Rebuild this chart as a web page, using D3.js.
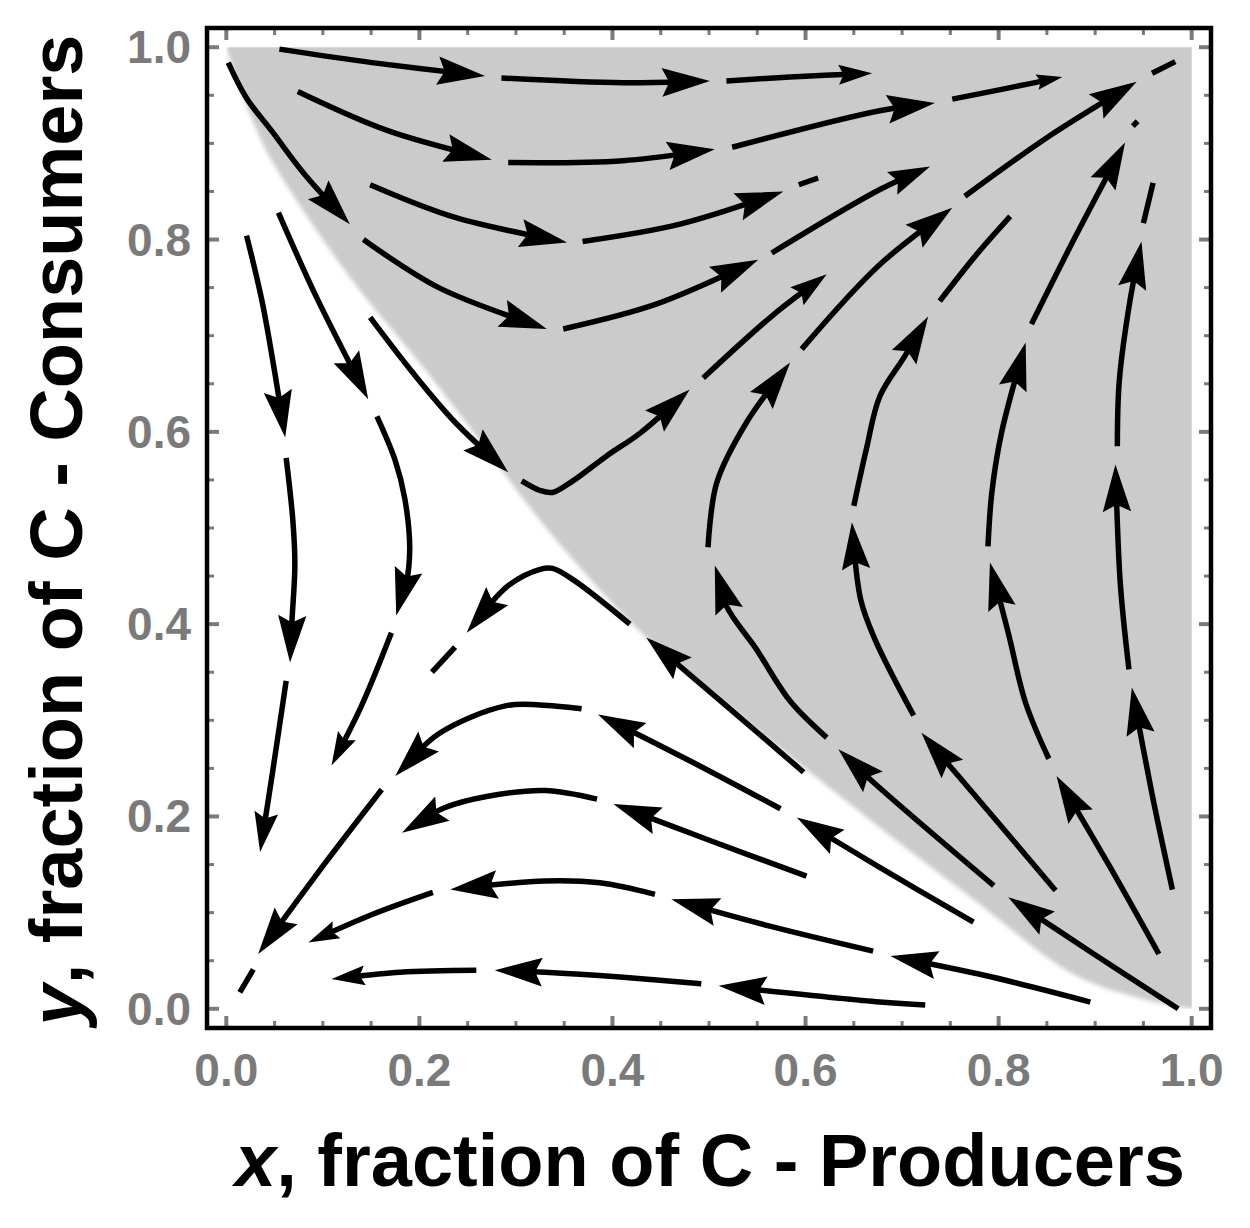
<!DOCTYPE html>
<html>
<head>
<meta charset="utf-8">
<script src="https://cdn.jsdelivr.net/npm/d3@7"></script>
<style>
  body { margin: 0; background: #fff; }
  svg { display: block; }
</style>
</head>
<body>
<svg id="chart" width="1250" height="1228"></svg>
<script>
// edge of the shaded basin (x, y)
const basinEdge = [[0,1],[0.015,0.955],[0.04,0.895],[0.07,0.845],[0.1,0.80],[0.14,0.745],
  [0.2,0.672],[0.26,0.594],[0.333,0.498],[0.428,0.393],[0.515,0.318],[0.602,0.248],
  [0.69,0.178],[0.776,0.112],[0.879,0.035],[0.95,0.01],[1,0]];

// stream lines, each one a list of pieces; a = piece ends with an arrowhead
const streamTop = [
  {a:1, p:[[0.055,0.998],[0.151,0.984],[0.268,0.970]]},
  {a:1, p:[[0.285,0.968],[0.411,0.963],[0.501,0.965]]},
  {a:1, p:[[0.518,0.965],[0.584,0.969],[0.669,0.973]]}
];
const streamSecond = [
  {a:1, p:[[0.074,0.954],[0.168,0.913],[0.275,0.883]]},
  {a:1, p:[[0.292,0.880],[0.411,0.882],[0.506,0.894]]},
  {a:1, p:[[0.524,0.896],[0.677,0.934],[0.734,0.942]]},
  {a:1, p:[[0.752,0.946],[0.807,0.957],[0.866,0.969]]}
];
const streamThird = [
  {a:1, p:[[0.149,0.857],[0.237,0.823],[0.353,0.797]]},
  {a:1, p:[[0.369,0.798],[0.470,0.816],[0.577,0.850]]},
  {a:0, p:[[0.593,0.857],[0.613,0.864]]}
];
const streamCorner = [
  {a:1, p:[[0.002,0.984],[0.021,0.947],[0.047,0.913],[0.081,0.868],[0.128,0.816]]},
  {a:1, p:[[0.142,0.800],[0.220,0.750],[0.332,0.707]]},
  {a:1, p:[[0.349,0.707],[0.446,0.733],[0.551,0.779]]},
  {a:1, p:[[0.565,0.786],[0.677,0.852],[0.729,0.876]]}
];
const streamSaddleUp = [
  {a:1, p:[[0.149,0.719],[0.192,0.663],[0.237,0.610],[0.292,0.558]]},
  {a:1, p:[[0.306,0.549],[0.325,0.539],[0.338,0.537],[0.359,0.549],[0.394,0.575],[0.429,0.599],[0.480,0.644]]},
  {a:1, p:[[0.494,0.656],[0.567,0.722],[0.622,0.764]]}
];
const streamDiagonal = [
  {a:1, p:[[0.986,0.000],[0.897,0.058],[0.810,0.116]]},
  {a:1, p:[[0.795,0.128],[0.672,0.234],[0.634,0.270]]},
  {a:1, p:[[0.622,0.282],[0.584,0.320],[0.549,0.374],[0.518,0.419],[0.506,0.461]]},
  {a:1, p:[[0.499,0.480],[0.508,0.547],[0.539,0.610],[0.584,0.672]]},
  {a:1, p:[[0.596,0.686],[0.677,0.774],[0.752,0.833]]},
  {a:1, p:[[0.765,0.845],[0.853,0.908],[0.943,0.964]]},
  {a:0, p:[[0.959,0.973],[0.983,0.985]]}
];
const streamSaddleLow = [
  {a:1, p:[[0.598,0.246],[0.518,0.315],[0.435,0.386]]},
  {a:1, p:[[0.418,0.400],[0.361,0.445],[0.338,0.458],[0.325,0.457],[0.292,0.440],[0.249,0.391]]},
  {a:0, p:[[0.237,0.376],[0.213,0.350]]}
];
const streamLowerArc = [
  {a:1, p:[[0.774,0.090],[0.672,0.150],[0.591,0.199]]},
  {a:1, p:[[0.574,0.208],[0.480,0.258],[0.385,0.306]]},
  {a:1, p:[[0.368,0.312],[0.325,0.316],[0.289,0.315],[0.220,0.286],[0.175,0.242]]},
  {a:1, p:[[0.161,0.228],[0.099,0.147],[0.033,0.057]]},
  {a:0, p:[[0.028,0.041],[0.014,0.017]]}
];
const streamMidArc = [
  {a:1, p:[[0.601,0.138],[0.501,0.175],[0.401,0.213]]},
  {a:1, p:[[0.384,0.218],[0.330,0.227],[0.271,0.221],[0.226,0.209],[0.182,0.183]]}
];
const streamLowArc = [
  {a:1, p:[[0.895,0.007],[0.793,0.033],[0.688,0.055]]},
  {a:1, p:[[0.670,0.060],[0.563,0.086],[0.461,0.114]]},
  {a:1, p:[[0.444,0.119],[0.387,0.131],[0.330,0.133],[0.232,0.124]]},
  {a:1, p:[[0.214,0.121],[0.151,0.098],[0.085,0.069]]}
];
const streamBottom = [
  {a:1, p:[[0.724,0.004],[0.677,0.007],[0.510,0.024]]},
  {a:1, p:[[0.492,0.026],[0.408,0.033],[0.330,0.038],[0.278,0.040]]},
  {a:1, p:[[0.259,0.040],[0.180,0.038],[0.109,0.031]]}
];
const streamRight1 = [
  {a:1, p:[[0.859,0.123],[0.789,0.206],[0.720,0.287]]},
  {a:1, p:[[0.712,0.305],[0.672,0.384],[0.657,0.426],[0.648,0.506]]},
  {a:1, p:[[0.650,0.523],[0.663,0.582],[0.677,0.637],[0.703,0.679],[0.727,0.720]]},
  {a:0, p:[[0.739,0.736],[0.776,0.783],[0.812,0.824]]}
];
const streamRight2 = [
  {a:1, p:[[0.966,0.057],[0.914,0.150],[0.860,0.242]]},
  {a:1, p:[[0.852,0.260],[0.828,0.318],[0.810,0.391],[0.791,0.464]]},
  {a:1, p:[[0.789,0.481],[0.793,0.537],[0.803,0.599],[0.828,0.693]]},
  {a:1, p:[[0.834,0.712],[0.879,0.802],[0.931,0.901]]},
  {a:0, p:[[0.939,0.918],[0.944,0.923]]}
];
const streamRight3 = [
  {a:1, p:[[0.980,0.124],[0.959,0.223],[0.938,0.334]]},
  {a:1, p:[[0.935,0.353],[0.926,0.443],[0.921,0.566]]},
  {a:1, p:[[0.923,0.585],[0.925,0.653],[0.936,0.736],[0.948,0.798]]},
  {a:0, p:[[0.950,0.817],[0.960,0.859]]}
];
const streamLeft1 = [
  {a:1, p:[[0.021,0.804],[0.037,0.736],[0.050,0.663],[0.061,0.594]]},
  {a:1, p:[[0.062,0.573],[0.069,0.507],[0.071,0.461],[0.068,0.403],[0.066,0.360]]},
  {a:1, p:[[0.062,0.341],[0.047,0.240],[0.035,0.163]]}
];
const streamLeft2 = [
  {a:1, p:[[0.054,0.828],[0.092,0.743],[0.147,0.634]]},
  {a:1, p:[[0.156,0.616],[0.175,0.570],[0.185,0.530],[0.190,0.478],[0.186,0.440],[0.176,0.409]]},
  {a:1, p:[[0.171,0.391],[0.140,0.315],[0.109,0.253]]}
];

const majorTicks = [0, 0.2, 0.4, 0.6, 0.8, 1.0];
const minorTicks = [0.05,0.1,0.15,0.25,0.3,0.35,0.45,0.5,0.55,0.65,0.7,0.75,0.85,0.9,0.95];
const xTitle = ['x', ', fraction of C - Producers'];
const yTitle = ['y', ', fraction of C - Consumers'];

const allStreams = [streamTop, streamSecond, streamThird, streamCorner, streamSaddleUp,
  streamDiagonal, streamSaddleLow, streamLowerArc, streamMidArc, streamLowArc, streamBottom,
  streamRight1, streamRight2, streamRight3, streamLeft1, streamLeft2];

// layout
const frame = {left: 207, right: 1211, top: 28, bottom: 1028};
const x = d3.scaleLinear().domain([-0.02, 1.02]).range([frame.left, frame.right]);
const y = d3.scaleLinear().domain([-0.02, 1.02]).range([frame.bottom, frame.top]);

const svg = d3.select('#chart');
const defs = svg.append('defs');
defs.append('clipPath').attr('id', 'unit')
  .append('rect')
  .attr('x', x(0)).attr('y', y(1))
  .attr('width', x(1) - x(0)).attr('height', y(0) - y(1));
defs.append('filter').attr('id', 'soft')
  .append('feGaussianBlur').attr('stdDeviation', 2.2);

// shaded basin
const basinPath = d3.line().x(d => x(d[0])).y(d => y(d[1])).curve(d3.curveCatmullRom.alpha(0.5));
const corner = [[1.08, 0], [1.08, 1.08], [0, 1.08]].map(d => [x(d[0]), y(d[1])].join(',')).join('L');
svg.append('g').attr('clip-path', 'url(#unit)')
  .append('path')
  .attr('d', basinPath(basinEdge) + 'L' + corner + 'Z')
  .attr('fill', '#cbcbcb')
  .attr('filter', 'url(#soft)');

// ticks on all four sides
const tickColor = '#7a7a7a';
const tickG = svg.append('g').attr('stroke', tickColor);
const addTicks = (vals, len, w) => {
  vals.forEach(v => {
    tickG.append('line').attr('x1', x(v)).attr('x2', x(v)).attr('y1', frame.bottom).attr('y2', frame.bottom - len).attr('stroke-width', w);
    tickG.append('line').attr('x1', x(v)).attr('x2', x(v)).attr('y1', frame.top).attr('y2', frame.top + len).attr('stroke-width', w);
    tickG.append('line').attr('y1', y(v)).attr('y2', y(v)).attr('x1', frame.left).attr('x2', frame.left + len).attr('stroke-width', w);
    tickG.append('line').attr('y1', y(v)).attr('y2', y(v)).attr('x1', frame.right).attr('x2', frame.right - len).attr('stroke-width', w);
  });
};
addTicks(majorTicks, 12, 4);
addTicks(minorTicks, 7, 3);

// stream lines with arrowheads
const line = d3.line().x(d => x(d[0])).y(d => y(d[1])).curve(d3.curveCatmullRom.alpha(0.5));
const streamG = svg.append('g');
allStreams.forEach(stream => {
  stream.forEach(piece => {
    const path = streamG.append('path')
      .attr('d', line(piece.p))
      .attr('fill', 'none')
      .attr('stroke', '#000')
      .attr('stroke-width', 5.5);
    if (!piece.a) return;
    const node = path.node();
    const L = node.getTotalLength();
    const ah = Math.max(22, Math.min(48, 0.23 * L));
    const tip = node.getPointAtLength(L);
    const back = node.getPointAtLength(Math.max(0, L - ah));
    const ang = Math.atan2(tip.y - back.y, tip.x - back.x) * 180 / Math.PI;
    path.attr('stroke-dasharray', `${L - ah * 0.5} ${L}`);
    const hw = ah * 0.3;
    streamG.append('path')
      .attr('d', `M0,0L${-ah},${-hw}L${-ah * 0.85},0L${-ah},${hw}Z`)
      .attr('transform', `translate(${tip.x},${tip.y}) rotate(${ang})`)
      .attr('fill', '#000');
  });
});

// frame
svg.append('rect')
  .attr('x', frame.left).attr('y', frame.top)
  .attr('width', frame.right - frame.left).attr('height', frame.bottom - frame.top)
  .attr('fill', 'none').attr('stroke', '#000').attr('stroke-width', 4.5);

// tick labels
const fmt = d3.format('.1f');
const labelFont = 'Liberation Sans, Arial, sans-serif';
svg.append('g').selectAll('text').data(majorTicks).join('text')
  .attr('x', d => x(d)).attr('y', 1086)
  .attr('text-anchor', 'middle')
  .attr('font-family', labelFont).attr('font-weight', 'bold').attr('font-size', 46)
  .attr('fill', tickColor)
  .text(fmt);
svg.append('g').selectAll('text').data(majorTicks).join('text')
  .attr('x', 191).attr('y', d => y(d) + 16)
  .attr('text-anchor', 'end')
  .attr('font-family', labelFont).attr('font-weight', 'bold').attr('font-size', 46)
  .attr('fill', tickColor)
  .text(fmt);

// axis titles
const xt = svg.append('text')
  .attr('x', 710).attr('y', 1186)
  .attr('text-anchor', 'middle')
  .attr('font-family', labelFont).attr('font-weight', 'bold').attr('font-size', 74);
xt.append('tspan').attr('font-style', 'italic').text(xTitle[0]);
xt.append('tspan').text(xTitle[1]);

const yt = svg.append('text')
  .attr('transform', 'translate(82,530) rotate(-90)')
  .attr('text-anchor', 'middle')
  .attr('font-family', labelFont).attr('font-weight', 'bold').attr('font-size', 74);
yt.append('tspan').attr('font-style', 'italic').text(yTitle[0]);
yt.append('tspan').text(yTitle[1]);
</script>
</body>
</html>
